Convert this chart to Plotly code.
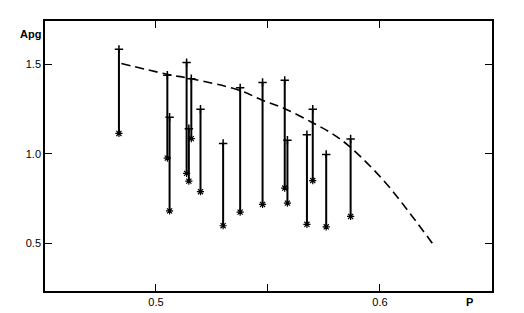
import plotly.graph_objects as go

# Measured points: P position, upper and lower Apg values
p_vals = [0.4835, 0.5051, 0.5061, 0.5137, 0.5147, 0.5158, 0.5199, 0.5300,
          0.5376, 0.5476, 0.5575, 0.5587, 0.5674, 0.5700, 0.5760, 0.5869]
apg_high = [1.582, 1.437, 1.203, 1.508, 1.139, 1.418, 1.248, 1.057,
            1.367, 1.397, 1.409, 1.075, 1.106, 1.248, 0.996, 1.082]
apg_low = [1.113, 0.975, 0.681, 0.890, 0.847, 1.084, 0.788, 0.598,
           0.674, 0.717, 0.808, 0.724, 0.606, 0.850, 0.592, 0.650]

# Dashed theoretical curve
curve_p = [0.4846, 0.505, 0.5154, 0.5372, 0.5475, 0.5573, 0.5697, 0.5785,
           0.5866, 0.6015, 0.6134, 0.6245]
curve_apg = [1.503, 1.443, 1.419, 1.354, 1.298, 1.252, 1.174, 1.113,
             1.038, 0.852, 0.667, 0.481]

x_ticks = [0.5, 0.55, 0.6]
x_tick_text = ["0.5", "", "0.6"]
y_ticks = [0.5, 1.0, 1.5]
y_tick_text = ["0.5", "1.0", "1.5"]

bx, by = [], []
for p, h, l in zip(p_vals, apg_high, apg_low):
    bx += [p, p, None]
    by += [l, h, None]

fig = go.Figure()
fig.add_trace(go.Scatter(x=bx, y=by, mode="lines",
                         line=dict(color="black", width=2), hoverinfo="skip"))
fig.add_trace(go.Scatter(x=p_vals, y=apg_high, mode="markers",
                         marker=dict(symbol="cross-thin", size=6, color="black",
                                     line=dict(color="black", width=1.5))))
fig.add_trace(go.Scatter(x=p_vals, y=apg_low, mode="markers",
                         marker=dict(symbol="asterisk-open", size=6, color="black",
                                     line=dict(color="black", width=1.2))))
fig.add_trace(go.Scatter(x=curve_p, y=curve_apg, mode="lines",
                         line=dict(color="black", width=1.6, dash="9px,5px",
                                   shape="spline")))

font = dict(family="Liberation Sans, Arial, sans-serif", size=11, color="black")
L, R, T, B = 45, 32, 21, 22
pw, ph = 524 - L - R, 313 - T - B


def to_paper(px, py):
    return (px - L) / pw, 1 - (py - T) / ph


ax_, ay_ = to_paper(30, 34)
px_, py_ = to_paper(469, 302)

fig.update_layout(
    width=524, height=313,
    margin=dict(l=L, r=R, t=T, b=B),
    paper_bgcolor="white", plot_bgcolor="white",
    showlegend=False, font=font,
    xaxis=dict(range=[0.4505, 0.65], tickvals=x_ticks, ticktext=x_tick_text,
               ticks="inside", ticklen=7, tickcolor="black", showgrid=False,
               zeroline=False, showline=True, linecolor="black", linewidth=1.5,
               mirror="ticks", tickfont=font, automargin=False),
    yaxis=dict(range=[0.234, 1.74], tickvals=y_ticks, ticktext=y_tick_text,
               ticks="inside", ticklen=7, tickcolor="black", showgrid=False,
               zeroline=False, showline=True, linecolor="black", linewidth=1.5,
               mirror="ticks", tickfont=font, automargin=False),
    annotations=[
        dict(text="<b>Apg</b>", x=ax_, y=ay_, xref="paper", yref="paper",
             xanchor="center", yanchor="middle", showarrow=False,
             font=dict(family="Liberation Sans, Arial", size=11)),
        dict(text="<b>P</b>", x=px_, y=py_, xref="paper", yref="paper",
             xanchor="center", yanchor="middle", showarrow=False,
             font=dict(family="Liberation Sans, Arial", size=11)),
    ],
)
fig.write_html("out.html")
